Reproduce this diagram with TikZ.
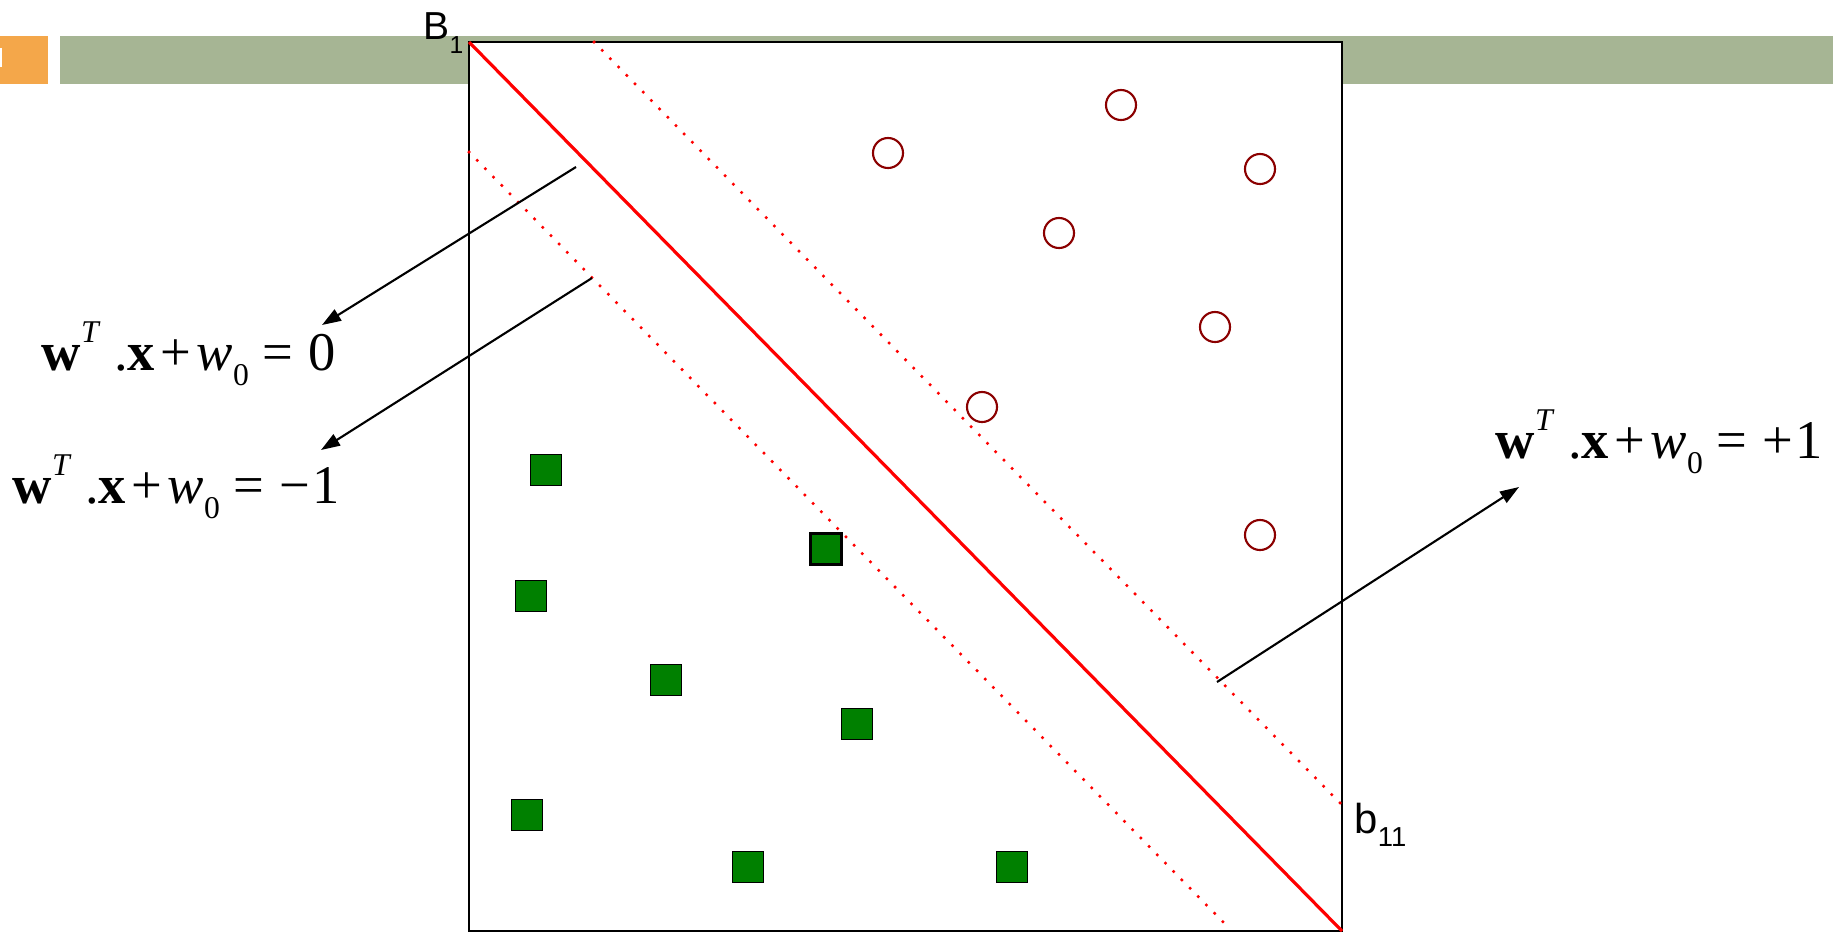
\documentclass[tikz,border=0pt]{standalone}
\usepackage{fontspec}
\setmainfont{Liberation Serif}
\newfontfamily\arialfont{Liberation Sans}
\usetikzlibrary{arrows.meta}
\definecolor{barorange}{RGB}{244,167,74}
\definecolor{bargreen}{RGB}{166,181,148}
\definecolor{ringred}{RGB}{139,0,0}
\definecolor{sqgreen}{RGB}{0,128,0}
\newcommand{\eqfont}{\fontsize{15.5}{17}\selectfont}
\newcommand{\smallsup}[1]{\raisebox{0.5em}{\fontsize{9}{10}\selectfont\textit{#1}}}
\newcommand{\smallsub}[1]{\raisebox{-0.28em}{\fontsize{9}{10}\selectfont #1}}
\newcommand{\hyplhs}{\textbf{w}\smallsup{T}\hspace{0.25em}.\textbf{x}\hspace{0.1em}+\hspace{0.1em}\textit{w}\smallsub{0}\hspace{0.25em}=\hspace{0.28em}}
\begin{document}
\begin{tikzpicture}[x=0.01cm,y=-0.01cm,
  ring/.style={circle,draw=ringred,line width=0.6pt,minimum size=0.3cm,inner sep=0pt},
  sq/.style={rectangle,draw=black,line width=0.4pt,fill=sqgreen,minimum size=0.31cm,inner sep=0pt},
  margin/.style={red,line width=1pt,line cap=round,dash pattern=on 0pt off 3.33pt},
  pointer/.style={line width=0.6pt,-{Triangle[length=0.19cm,width=0.13cm]}},
  eq/.style={font=\eqfont,inner sep=0pt,anchor=base west}]
\useasboundingbox (0,0) rectangle (1833,933);
% title bar
\fill[bargreen] (60,36) rectangle (1833,84);
\fill[barorange] (0,36) rectangle (48,84);
\fill[white] (0,48) rectangle (2,67);
% plot box and separating lines
\coordinate (tl) at (469,42); \coordinate (br) at (1342,931);
\draw[fill=white,line width=0.3pt] (tl) rectangle (br);
\coordinate (up0) at (594,42); \coordinate (up1) at (1342,805);
\coordinate (lo0) at (469,152); \coordinate (lo1) at (1227,926);
\draw[margin] (up0) -- (up1);
\draw[margin] (lo0) -- (lo1);
\draw[red,line width=0.9pt] (tl) -- (br);
\node[font=\arialfont\fontsize{11.1}{12}\selectfont,inner sep=0pt,anchor=base west] (bone) at (423,39) {B\raisebox{-0.36em}{\fontsize{7}{8}\selectfont 1}};
\node[font=\arialfont\fontsize{11.9}{13}\selectfont,inner sep=0pt,anchor=base west] (bleven) at (1354,833) {b\raisebox{-0.33em}{\fontsize{7.8}{9}\selectfont 11}};
% class points
\foreach \px/\py [count=\i] in {888/153,1121/105,1260/169,1059/233,1215/327,982/407,1260/535}
  \node[ring] (c\i) at (\px,\py) {};
\foreach \px/\py [count=\i] in {546/470,531/596,666/680,857/724,527/815,748/867,1012/867}
  \node[sq] (s\i) at (\px,\py) {};
\node[sq,line width=0.8pt] (s8) at (826,549) {};
% equations
\node[eq] (eqzero) at (41,370) {\hyplhs 0};
\node[eq] (eqminus) at (12,503) {\hyplhs −\hspace{0.04em}1};
\node[eq] (eqplus) at (1495,458) {\hyplhs +\hspace{0.04em}1};
\coordinate (a0s) at (576,167); \coordinate (a0t) at (322,325);
\coordinate (a1s) at (592,278); \coordinate (a1t) at (321,450);
\coordinate (a2s) at (1217,682); \coordinate (a2t) at (1519,487);
\draw[pointer] (a0s) -- (a0t);
\draw[pointer] (a1s) -- (a1t);
\draw[pointer] (a2s) -- (a2t);
\end{tikzpicture}
\end{document}
